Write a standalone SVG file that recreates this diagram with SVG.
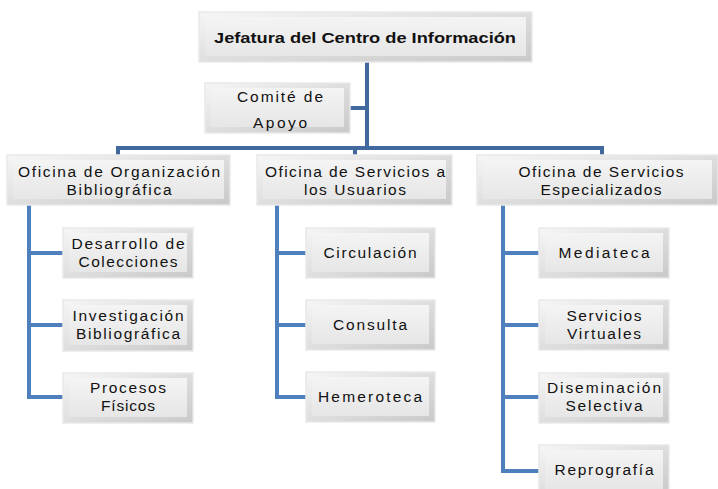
<svg xmlns="http://www.w3.org/2000/svg" width="718" height="489" viewBox="0 0 718 489">
<defs>
<linearGradient id="bev" x1="0" y1="0" x2="1" y2="1">
<stop offset="0" stop-color="#f6f6f6"/>
<stop offset="0.5" stop-color="#dedede"/>
<stop offset="1" stop-color="#c9c9c9"/>
</linearGradient>
<linearGradient id="face" x1="0" y1="0" x2="0" y2="1">
<stop offset="0" stop-color="#f4f4f4"/>
<stop offset="1" stop-color="#e6e6e6"/>
</linearGradient>
</defs>
<style>
.o{fill:url(#bev);stroke:#e9e9e9;stroke-width:1.5}
.f{fill:url(#face);stroke:none}
.t{font-family:"Liberation Sans",Arial,sans-serif;font-size:15.5px;fill:#111;text-anchor:middle}
.b{font-family:"Liberation Sans",Arial,sans-serif;font-size:15.5px;font-weight:bold;fill:#111;text-anchor:middle}
.c{fill:none;stroke:#4f7fbd;stroke-width:4;stroke-linejoin:miter}
.d{fill:none;stroke:#41699e;stroke-width:4}
</style>
<g id="connectors">
<path class="d" d="M367 62V148"/>
<path class="d" d="M350 108H367"/>
<path class="d" d="M118 148H602M118 146V156M355 146V156M602 146V156"/>
<path class="c" d="M29 205V397H63M29 253H63M29 325H63"/>
<path class="c" d="M277 205V397H306M277 253H306M277 325H306"/>
<path class="c" d="M503 205V471H539M503 253H539M503 325H539M503 397H539"/>
</g>
<g id="jefatura"><rect class="o" x="199" y="12" width="333" height="50"/><rect class="f" x="205" y="17" width="321" height="39"/><text class="b" x="365" y="43" textLength="302" lengthAdjust="spacingAndGlyphs">Jefatura del Centro de Información</text></g>
<g id="comite"><rect class="o" x="205" y="83" width="145" height="50"/><rect class="f" x="211" y="88" width="133" height="39"/><text class="t" x="280" y="102" textLength="86" lengthAdjust="spacing">Comité de</text><text class="t" x="280" y="128" textLength="54" lengthAdjust="spacing">Apoyo</text></g>
<g id="of1"><rect class="o" x="7" y="155" width="223" height="50"/><rect class="f" x="13" y="160" width="211" height="39"/><text class="t" x="119" y="177" textLength="202" lengthAdjust="spacing">Oficina de Organización</text><text class="t" x="119" y="195" textLength="105" lengthAdjust="spacing">Bibliográfica</text></g>
<g id="of2"><rect class="o" x="257" y="155" width="195" height="50"/><rect class="f" x="263" y="160" width="183" height="39"/><text class="t" x="355" y="177" textLength="180" lengthAdjust="spacing">Oficina de Servicios a</text><text class="t" x="355" y="195" textLength="102" lengthAdjust="spacing">los Usuarios</text></g>
<g id="of3"><rect class="o" x="477" y="155" width="241" height="50"/><rect class="f" x="483" y="160" width="229" height="39"/><text class="t" x="601" y="177" textLength="165" lengthAdjust="spacing">Oficina de Servicios</text><text class="t" x="601" y="195" textLength="121" lengthAdjust="spacing">Especializados</text></g>
<g id="desarrollo"><rect class="o" x="63" y="228" width="130" height="50"/><rect class="f" x="69" y="233" width="118" height="39"/><text class="t" x="128" y="249" textLength="113" lengthAdjust="spacing">Desarrollo de</text><text class="t" x="128" y="267" textLength="99" lengthAdjust="spacing">Colecciones</text></g>
<g id="investigacion"><rect class="o" x="63" y="300" width="130" height="51"/><rect class="f" x="69" y="305" width="118" height="40"/><text class="t" x="128" y="321" textLength="111" lengthAdjust="spacing">Investigación</text><text class="t" x="128" y="339" textLength="104" lengthAdjust="spacing">Bibliográfica</text></g>
<g id="procesos"><rect class="o" x="63" y="373" width="130" height="50"/><rect class="f" x="69" y="378" width="118" height="39"/><text class="t" x="128" y="393" textLength="76" lengthAdjust="spacing">Procesos</text><text class="t" x="128" y="411" textLength="54" lengthAdjust="spacing">Físicos</text></g>
<g id="circulacion"><rect class="o" x="306" y="228" width="129" height="50"/><rect class="f" x="312" y="233" width="117" height="39"/><text class="t" x="370" y="258" textLength="93" lengthAdjust="spacing">Circulación</text></g>
<g id="consulta"><rect class="o" x="306" y="300" width="129" height="50"/><rect class="f" x="312" y="305" width="117" height="39"/><text class="t" x="370" y="330" textLength="74" lengthAdjust="spacing">Consulta</text></g>
<g id="hemeroteca"><rect class="o" x="306" y="372" width="129" height="50"/><rect class="f" x="312" y="377" width="117" height="39"/><text class="t" x="370" y="402" textLength="104" lengthAdjust="spacing">Hemeroteca</text></g>
<g id="mediateca"><rect class="o" x="539" y="228" width="130" height="50"/><rect class="f" x="545" y="233" width="118" height="39"/><text class="t" x="604" y="258" textLength="91" lengthAdjust="spacing">Mediateca</text></g>
<g id="virtuales"><rect class="o" x="539" y="300" width="130" height="50"/><rect class="f" x="545" y="305" width="118" height="39"/><text class="t" x="604" y="321" textLength="75" lengthAdjust="spacing">Servicios</text><text class="t" x="604" y="339" textLength="74" lengthAdjust="spacing">Virtuales</text></g>
<g id="diseminacion"><rect class="o" x="539" y="373" width="130" height="50"/><rect class="f" x="545" y="378" width="118" height="39"/><text class="t" x="604" y="393" textLength="114" lengthAdjust="spacing">Diseminación</text><text class="t" x="604" y="411" textLength="77" lengthAdjust="spacing">Selectiva</text></g>
<g id="reprografia"><rect class="o" x="539" y="445" width="130" height="50"/><rect class="f" x="545" y="450" width="118" height="39"/><text class="t" x="604" y="475" textLength="99" lengthAdjust="spacing">Reprografía</text></g>
</svg>
